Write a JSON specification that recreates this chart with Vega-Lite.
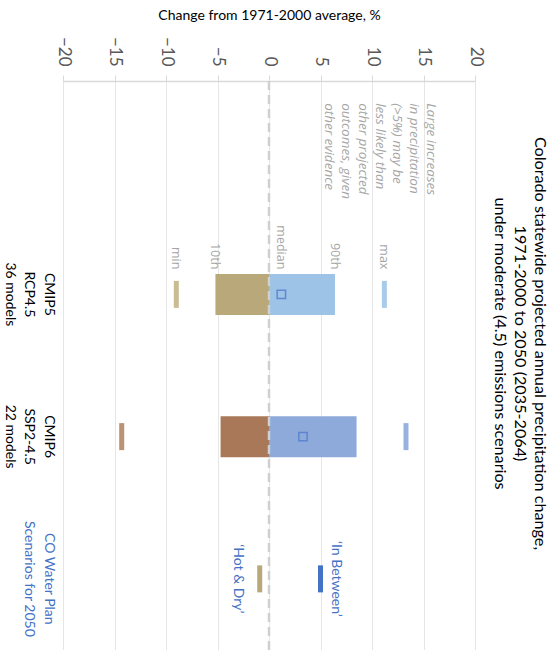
{
  "$schema": "https://vega.github.io/schema/vega-lite/v6.json",
  "width": 412,
  "height": 569,
  "autosize": {"type": "none"},
  "padding": {"left": 63, "top": 81, "right": 81, "bottom": 0},
  "background": "white",
  "config": {"view": {"stroke": null}, "font": "Lato"},
  "title": {
    "text": ["Colorado statewide projected annual precipitation change,", "1971-2000 to 2050 (2035-2064)", "under moderate (4.5) emissions scenarios"],
    "orient": "right",
    "anchor": "middle",
    "fontSize": 16.2,
    "fontWeight": "normal",
    "color": "black",
    "font": "Lato",
    "lineHeight": 20,
    "offset": 8,
    "dx": -22
  },
  "data": {
    "values": [
      {"row": "CMIP5", "kind": "p10", "v": -5.2, "s": "CMIP5 10th", "tag": "10th"},
      {"row": "CMIP5", "kind": "p90", "v": 6.4, "s": "CMIP5 90th", "tag": "90th"},
      {"row": "CMIP5", "kind": "median", "v": 1.2, "s": "CMIP5 median", "tag": "median"},
      {"row": "CMIP5", "kind": "min", "v": -9.0, "s": "CMIP5 min", "tag": "min"},
      {"row": "CMIP5", "kind": "max", "v": 11.2, "s": "CMIP5 max", "tag": "max"},
      {"row": "CMIP6", "kind": "p10", "v": -4.7, "s": "CMIP6 10th"},
      {"row": "CMIP6", "kind": "p90", "v": 8.5, "s": "CMIP6 90th"},
      {"row": "CMIP6", "kind": "median", "v": 3.3, "s": "CMIP6 median"},
      {"row": "CMIP6", "kind": "min", "v": -14.3, "s": "CMIP6 min"},
      {"row": "CMIP6", "kind": "max", "v": 13.3, "s": "CMIP6 max"},
      {"row": "CO", "kind": "hotdry", "v": -0.9, "s": "Hot & Dry", "label": "‘Hot & Dry’"},
      {"row": "CO", "kind": "between", "v": 5.0, "s": "In Between", "label": "‘In Between’"},
      {"row": "note", "kind": "note", "v": 16.4, "label": "Large increases\nin precipitation\n(>5%) may be\nless likely than\nother projected\noutcomes, given\nother evidence"}
    ]
  },
  "layer": [
    {
      "transform": [{"filter": "datum.kind == 'p10'"}],
      "mark": {"type": "bar", "height": 41},
      "encoding": {
        "x": {
          "field": "v", "type": "quantitative",
          "scale": {"domain": [-20, 20], "nice": false, "zero": false},
          "axis": {
            "orient": "top",
            "title": "Change from 1971-2000 average, %",
            "titleFont": "Lato", "titleFontSize": 14, "titleFontWeight": "normal", "titleColor": "black",
            "titlePadding": 14,
            "values": [-20, -15, -10, -5, 0, 5, 10, 15, 20],
            "labelAngle": 90, "labelAlign": "right", "labelBaseline": "middle",
            "labelFont": "Lato", "labelFontSize": 17, "labelColor": "#595959", "labelPadding": 9,
            "labelFlush": false, "labelOverlap": false,
            "tickSize": 6, "tickColor": "#d9d9d9", "tickWidth": 1,
            "domainColor": "#d9d9d9", "domainWidth": 1.5,
            "grid": true, "gridColor": "#e6e6e6", "gridWidth": 1
          }
        },
        "x2": {"datum": 0},
        "y": {
          "field": "row", "type": "nominal",
          "scale": {"domain": ["note", "CMIP5", "CMIP6", "CO"], "paddingInner": 0, "paddingOuter": 0},
          "axis": {
            "title": null,
            "labelExpr": "datum.value == 'CMIP5' ? ['CMIP5', 'RCP4.5', '36 models'] : datum.value == 'CMIP6' ? ['CMIP6', 'SSP2-4.5', '22 models'] : datum.value == 'CO' ? ['CO Water Plan', 'Scenarios for 2050'] : ''",
            "labelAngle": 90, "labelAlign": "center", "labelBaseline": "top",
            "labelPadding": 8, "ticks": false, "tickSize": 0, "domain": false, "grid": false,
            "labelFont": "Lato", "labelFontSize": 14, "labelLineHeight": 19.5, "labelOverlap": false, "labelBound": false,
            "labelColor": {"condition": {"test": "datum.value == 'CO'", "value": "#4472c4"}, "value": "black"}
          }
        },
        "color": {
          "field": "s", "type": "nominal", "legend": null,
          "scale": {
            "domain": ["CMIP5 10th", "CMIP5 90th", "CMIP5 min", "CMIP5 max", "CMIP6 10th", "CMIP6 90th", "CMIP6 min", "CMIP6 max", "Hot & Dry", "In Between"],
            "range": ["#b8a87a", "#9dc3e6", "#c9bc92", "#a8cbea", "#a97858", "#8eaadb", "#bb9373", "#97b1e0", "#b9a878", "#4472c4"]
          }
        }
      }
    },
    {
      "transform": [{"filter": "datum.kind == 'p90'"}],
      "mark": {"type": "bar", "height": 41},
      "encoding": {
        "x": {"field": "v", "type": "quantitative"},
        "x2": {"datum": 0},
        "y": {"field": "row", "type": "nominal"},
        "color": {"field": "s", "type": "nominal", "legend": null}
      }
    },
    {
      "data": {"values": [{"v": 0}]},
      "mark": {"type": "rule", "color": "#d0d0d0", "strokeWidth": 2.5, "strokeDash": [9, 5]},
      "encoding": {"x": {"field": "v", "type": "quantitative"}}
    },
    {
      "transform": [{"filter": "datum.kind == 'min' || datum.kind == 'max' || datum.kind == 'hotdry' || datum.kind == 'between'"}],
      "mark": {"type": "tick", "size": 27, "thickness": 5, "opacity": 1},
      "encoding": {
        "x": {"field": "v", "type": "quantitative"},
        "y": {"field": "row", "type": "nominal"},
        "color": {"field": "s", "type": "nominal", "legend": null}
      }
    },
    {
      "transform": [{"filter": "datum.kind == 'median'"}],
      "mark": {"type": "point", "shape": "square", "filled": false, "size": 70, "strokeWidth": 1.5, "color": "#5a82d2", "opacity": 0.9},
      "encoding": {
        "x": {"field": "v", "type": "quantitative"},
        "y": {"field": "row", "type": "nominal"}
      }
    },
    {
      "transform": [{"filter": "datum.row == 'CMIP5'"}],
      "mark": {"type": "text", "angle": 90, "align": "right", "baseline": "middle", "dx": -25, "font": "Open Sans", "fontSize": 12.5, "color": "#a6a6a6"},
      "encoding": {
        "x": {"field": "v", "type": "quantitative"},
        "y": {"field": "row", "type": "nominal"},
        "text": {"field": "tag", "type": "nominal"}
      }
    },
    {
      "transform": [{"filter": "datum.kind == 'note'"}],
      "mark": {"type": "text", "angle": 90, "align": "left", "baseline": "top", "dx": -49, "lineBreak": "\n", "lineHeight": 17, "font": "Open Sans", "fontStyle": "italic", "fontSize": 13.5, "color": "#a6a6a6"},
      "encoding": {
        "x": {"field": "v", "type": "quantitative"},
        "y": {"field": "row", "type": "nominal"},
        "text": {"field": "label", "type": "nominal"}
      }
    },
    {
      "transform": [{"filter": "datum.kind == 'hotdry'"}],
      "mark": {"type": "text", "angle": 90, "align": "center", "baseline": "middle", "dy": 22, "font": "Lato", "fontSize": 14, "color": "#4472c4"},
      "encoding": {
        "x": {"field": "v", "type": "quantitative"},
        "y": {"field": "row", "type": "nominal"},
        "text": {"field": "label", "type": "nominal"}
      }
    },
    {
      "transform": [{"filter": "datum.kind == 'between'"}],
      "mark": {"type": "text", "angle": 90, "align": "center", "baseline": "middle", "dy": -15, "font": "Lato", "fontSize": 14, "color": "#4472c4"},
      "encoding": {
        "x": {"field": "v", "type": "quantitative"},
        "y": {"field": "row", "type": "nominal"},
        "text": {"field": "label", "type": "nominal"}
      }
    }
  ]
}
